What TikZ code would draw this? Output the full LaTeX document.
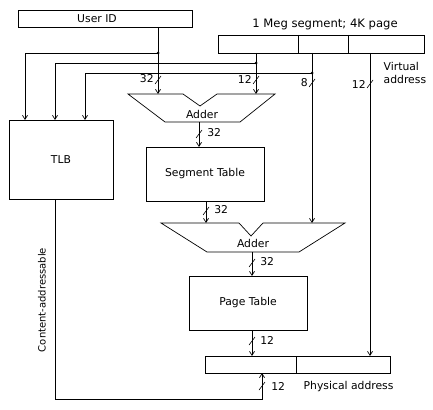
\documentclass[tikz,border=0pt]{standalone}
\usepackage{fontspec}
\setmainfont{DejaVu Sans}
\usetikzlibrary{arrows.meta,calc}
\begin{document}
\begin{tikzpicture}[x=1pt,y=-1pt,
  line width=0.7pt,
  font=\fontsize{10.8}{12}\selectfont,
  arr/.style={-{Straight Barb[length=4pt,width=5pt]}},
  dot/.style={circle,fill,inner sep=0pt,minimum size=3pt},
  lbl/.style={inner sep=1pt},
  ]
\useasboundingbox (0,0) rectangle (433,409);
\newcommand{\bitslash}[1]{\draw[line width=0.6pt] ($(#1)+(-3,4)$) -- ($(#1)+(3,-4)$);}
% boxes
\node[draw,minimum width=174pt,minimum height=17pt,inner sep=0pt] (uid) at (105.5,18.5) {};
\node (uidt) at (97,18.5) {User ID};
\node[draw,minimum width=206pt,minimum height=18pt,inner sep=0pt] (va) at (321,44) {};
\draw (298,35) -- (298,53);
\draw (348,35) -- (348,53);
\node[font=\fontsize{11.6}{13}\selectfont] (vatitle) at (325,24.5) {1 Meg segment; 4K page};
\node[draw,minimum width=104pt,minimum height=79pt,inner sep=0pt] (tlb) at (61,159.5) {TLB};
\node[draw,minimum width=118pt,minimum height=54pt,inner sep=0pt] (seg) at (205,174) {Segment Table};
\node[draw,minimum width=118pt,minimum height=54pt,inner sep=0pt] (pt) at (248,303) {Page Table};
\node[draw,minimum width=185pt,minimum height=17pt,inner sep=0pt] (pa) at (297.5,364.5) {};
\draw (296,356) -- (296,373);
% adders
\draw (128,94) -- (183,94) -- (200,106) -- (217,94) -- (275,94) -- (240,122) -- (165,122) -- cycle;
\node (add1) at (202,114) {Adder};
\draw (161,223) -- (239,223) -- (251,236) -- (263,223) -- (345,223) -- (299,252) -- (207,252) -- cycle;
\node (add2) at (253,243) {Adder};
% coordinates
\coordinate (u1) at (158,27);
\coordinate (a1u) at (158,94);
\coordinate (f1) at (256,53);
\coordinate (a1f) at (256,94);
\coordinate (f2) at (312,53);
\coordinate (a2f) at (312,223);
\coordinate (f3) at (370,53);
\coordinate (paf) at (370,356);
\coordinate (d1) at (158,53);
\coordinate (d2) at (256,63);
\coordinate (d3) at (312,73);
\coordinate (t1) at (25,120);
\coordinate (t2) at (55,120);
\coordinate (t3) at (85,120);
\coordinate (a1o) at (199,122);
\coordinate (si) at (199,147);
\coordinate (so) at (206,201);
\coordinate (a2i) at (206,223);
\coordinate (a2o) at (252,252);
\coordinate (pti) at (252,276);
\coordinate (pto) at (252,330);
\coordinate (pai) at (252,356);
\coordinate (tlbo) at (55,199);
\coordinate (c1) at (55,399);
\coordinate (c2) at (262,399);
\coordinate (pab) at (262,373);
% connectors
\draw[arr] (u1) -- (a1u);
\draw[arr] (d1) -| (t1);
\draw[arr] (f1) -- (a1f);
\draw[arr] (d2) -| (t2);
\draw[arr] (f2) -- (a2f);
\draw[arr] (d3) -| (t3);
\draw[arr] (f3) -- (paf);
\draw[arr] (a1o) -- (si);
\draw[arr] (so) -- (a2i);
\draw[arr] (a2o) -- (pti);
\draw[arr] (pto) -- (pai);
\draw[arr] (tlbo) -- (c1) -- (c2) -- (pab);
\node[dot] at (d1) {};
\node[dot] at (d2) {};
\node[dot] at (d3) {};
% bit slashes and labels
\coordinate (s1) at (158,80); \bitslash{s1} \node[lbl,anchor=east] at (155,79) {32};
\coordinate (s2) at (256,80); \bitslash{s2} \node[lbl,anchor=east] at (253,79) {12};
\coordinate (s3) at (312,83); \bitslash{s3} \node[lbl,anchor=east] at (309,83) {8};
\coordinate (s4) at (370,84); \bitslash{s4} \node[lbl,anchor=east] at (367,84) {12};
\coordinate (s5) at (199,134); \bitslash{s5} \node[lbl,anchor=west] at (206,133) {32};
\coordinate (s6) at (206,211); \bitslash{s6} \node[lbl,anchor=west] at (213,210) {32};
\coordinate (s7) at (252,263); \bitslash{s7} \node[lbl,anchor=west] at (259,262) {32};
\coordinate (s8) at (252,341); \bitslash{s8} \node[lbl,anchor=west] at (259,340) {12};
\coordinate (s9) at (262,386); \bitslash{s9} \node[lbl,anchor=west] at (270,386) {12};
% texts
\node[align=left,anchor=west] (vat) at (380,73) {Virtual\\[1pt]address};
\node[rotate=90,font=\fontsize{10}{12}\selectfont] (ca) at (42,300) {Content-addressable};
\node[anchor=west] (pat) at (300,387) {Physical address};
\end{tikzpicture}
\end{document}
